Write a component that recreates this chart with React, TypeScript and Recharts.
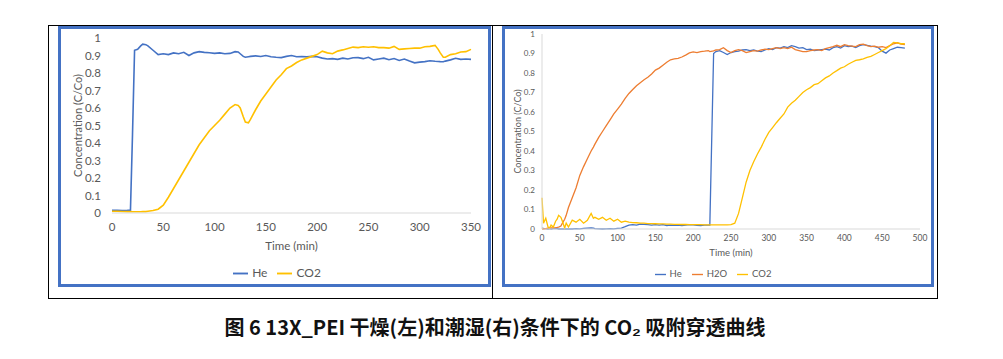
import { LineChart, Line, XAxis, YAxis, Legend } from "recharts";

const FONT = "Lato, 'Open Sans', sans-serif";
const TEXT_GREY = "#595959";
const AXIS_GREY = "#d9d9d9";
const HE_BLUE = "#4472c4";
const CO2_YELLOW = "#ffc000";
const H2O_ORANGE = "#ed7d31";

// dry run (left panel)
const dryTime = [
    0, 5, 10, 15, 18, 20, 22, 25, 28, 30,
    33, 35, 40, 45, 50, 55, 60, 65, 70, 75,
    80, 85, 90, 95, 100, 105, 110, 115, 120, 123,
    125, 128, 130, 133, 135, 140, 145, 150, 155, 160,
    165, 170, 175, 180, 185, 190, 195, 200, 205, 210,
    215, 220, 225, 230, 235, 240, 245, 250, 255, 260,
    265, 270, 275, 280, 285, 290, 295, 300, 305, 310,
    315, 318, 320, 323, 325, 330, 335, 340, 345, 350,
];
const dryHe = [
    0.015, 0.015, 0.014, 0.015, 0.016, 0.45, 0.93, 0.935, 0.955, 0.965,
    0.962, 0.955, 0.93, 0.905, 0.91, 0.905, 0.915, 0.91, 0.918, 0.9,
    0.915, 0.922, 0.918, 0.916, 0.912, 0.915, 0.91, 0.912, 0.922, 0.92,
    0.91, 0.895, 0.89, 0.893, 0.895, 0.898, 0.894, 0.9, 0.893, 0.89,
    0.888, 0.895, 0.9, 0.893, 0.894, 0.892, 0.895, 0.893, 0.885, 0.88,
    0.882, 0.878, 0.885, 0.88, 0.887, 0.888, 0.882, 0.89, 0.875, 0.88,
    0.885, 0.876, 0.883, 0.872, 0.88, 0.868, 0.858, 0.862, 0.865, 0.87,
    0.867, 0.866, 0.865, 0.864, 0.868, 0.875, 0.884, 0.878, 0.88, 0.878,
];
const dryCO2 = [
    0.01, 0.01, 0.009, 0.008, 0.008, 0.007, 0.007, 0.007, 0.007, 0.008,
    0.008, 0.01, 0.014, 0.022, 0.045, 0.09, 0.14, 0.19, 0.24, 0.29,
    0.34, 0.39, 0.43, 0.47, 0.5, 0.53, 0.565, 0.6, 0.62, 0.615,
    0.6, 0.55, 0.52, 0.515, 0.535, 0.59, 0.64, 0.68, 0.72, 0.76,
    0.79, 0.825, 0.84, 0.86, 0.875, 0.885, 0.895, 0.905, 0.925, 0.915,
    0.91, 0.925, 0.932, 0.94, 0.948, 0.945, 0.95, 0.947, 0.95, 0.945,
    0.945, 0.942, 0.952, 0.935, 0.938, 0.94, 0.942, 0.942, 0.95, 0.952,
    0.958, 0.935, 0.915, 0.89, 0.89, 0.905, 0.91, 0.92, 0.922, 0.935,
];

// humid run (right panel)
const wetTime = [
    0, 2, 5, 8, 10, 12, 15, 18, 20, 22,
    25, 27, 30, 32, 35, 40, 45, 50, 55, 60,
    65, 68, 70, 75, 80, 85, 90, 95, 100, 105,
    110, 115, 120, 125, 130, 135, 140, 145, 150, 155,
    160, 165, 170, 175, 180, 185, 190, 195, 200, 205,
    210, 215, 220, 222, 227, 230, 235, 240, 245, 250,
    255, 260, 265, 270, 275, 280, 285, 290, 295, 300,
    305, 310, 315, 320, 325, 330, 335, 340, 345, 350,
    355, 360, 365, 370, 375, 380, 385, 390, 395, 400,
    405, 410, 415, 420, 425, 430, 435, 440, 445, 450,
    455, 460, 465, 470, 475, 480,
];
const wetHe = [
    0.005, 0.003, 0.002, 0, 0.002, 0, 0.002, 0.003, 0.002, 0,
    0.001, 0, 0, 0.001, 0, 0, 0.002, 0.001, 0.003, 0.005,
    0.006, 0.004, 0.002, 0.001, 0, 0.001, 0.002, 0.001, 0.003, 0.005,
    0.012, 0.02, 0.022, 0.02, 0.025, 0.024, 0.022, 0.02, 0.022, 0.02,
    0.022, 0.018, 0.02, 0.019, 0.02, 0.018, 0.02, 0.022, 0.021, 0.019,
    0.018, 0.02, 0.02, 0.02, 0.9, 0.91, 0.915, 0.905, 0.895, 0.905,
    0.91, 0.912, 0.918, 0.92, 0.915, 0.918, 0.912, 0.91, 0.918, 0.925,
    0.92, 0.93, 0.928, 0.935, 0.93, 0.94, 0.935, 0.928, 0.93, 0.92,
    0.922, 0.915, 0.918, 0.92, 0.922, 0.918, 0.93, 0.935, 0.928, 0.94,
    0.935, 0.938, 0.93, 0.94, 0.945, 0.942, 0.938, 0.935, 0.93, 0.912,
    0.902, 0.918, 0.925, 0.932, 0.93, 0.928,
];
const wetH2O = [
    0, 0, 0.002, 0.004, 0.005, 0.006, 0.006, 0.007, 0.008, 0.01,
    0.015, 0.03, 0.05, 0.07, 0.11, 0.16, 0.21, 0.275, 0.32, 0.36,
    0.4, 0.42, 0.435, 0.47, 0.5, 0.53, 0.56, 0.59, 0.615, 0.64,
    0.67, 0.695, 0.715, 0.735, 0.75, 0.765, 0.778, 0.795, 0.815, 0.825,
    0.84, 0.855, 0.868, 0.872, 0.875, 0.882, 0.892, 0.903, 0.908, 0.905,
    0.91, 0.912, 0.915, 0.91, 0.914, 0.918, 0.92, 0.93, 0.915, 0.905,
    0.915, 0.92, 0.915, 0.905, 0.91, 0.915, 0.912, 0.918, 0.922, 0.92,
    0.925, 0.93, 0.925, 0.93, 0.925, 0.932, 0.92, 0.915, 0.91, 0.91,
    0.915, 0.918, 0.92, 0.915, 0.925, 0.93, 0.935, 0.942, 0.935, 0.945,
    0.94, 0.938, 0.935, 0.945, 0.948, 0.94, 0.935, 0.938, 0.932, 0.935,
    0.93, 0.94, 0.95, 0.955, 0.948, 0.945,
];
const wetCO2 = [
    0.16, 0.03, 0.055, 0.01, 0.005, 0.02, 0.01, 0.04, 0.05, 0.07,
    0.06, 0.04, 0.005, 0.03, 0.01, 0.045, 0.035, 0.05, 0.03, 0.045,
    0.08, 0.055, 0.06, 0.05, 0.06, 0.045, 0.055, 0.04, 0.05, 0.035,
    0.04, 0.035, 0.033, 0.032, 0.03, 0.03, 0.028, 0.028, 0.027, 0.026,
    0.026, 0.025, 0.025, 0.024, 0.024, 0.023, 0.023, 0.022, 0.022, 0.022,
    0.022, 0.021, 0.021, 0.021, 0.021, 0.021, 0.021, 0.021, 0.021, 0.022,
    0.03, 0.08, 0.16, 0.24, 0.3, 0.345, 0.385, 0.42, 0.46, 0.495,
    0.52, 0.545, 0.568, 0.59, 0.625, 0.645, 0.66, 0.68, 0.7, 0.714,
    0.725, 0.74, 0.745, 0.76, 0.775, 0.785, 0.8, 0.812, 0.825, 0.832,
    0.845, 0.855, 0.865, 0.868, 0.872, 0.88, 0.885, 0.895, 0.905, 0.915,
    0.925, 0.94, 0.957, 0.955, 0.95, 0.95,
];

const dryTicks = [0, 50, 100, 150, 200, 250, 300, 350];
const wetTicks = [0, 50, 100, 150, 200, 250, 300, 350, 400, 450, 500];
const concTicks = [0, 0.1, 0.2, 0.3, 0.4, 0.5, 0.6, 0.7, 0.8, 0.9, 1];
const legendOrder = ["He", "H2O", "CO2"];

const dryData = dryTime.map((t, i) => ({ t, he: dryHe[i], co2: dryCO2[i] }));
const wetData = wetTime.map((t, i) => ({ t, he: wetHe[i], h2o: wetH2O[i], co2: wetCO2[i] }));

const legendText = (value: string) => <span style={{ color: TEXT_GREY }}>{value}</span>;
// keep legend in series order (Recharts sorts by name otherwise)
const byOrder = (item: any) => legendOrder.indexOf(item.value);

function DryChart() {
    return (
        <LineChart
            width={432}
            height={258}
            data={dryData}
            margin={{ top: 11, right: 19, left: 0, bottom: 0 }}
            style={{ fontFamily: FONT }}
        >
            <XAxis
                dataKey="t"
                type="number"
                domain={[0, 350]}
                ticks={dryTicks}
                height={72}
                stroke={AXIS_GREY}
                tickLine={false}
                tickSize={0}
                tickMargin={10}
                tick={{ fontSize: 11.5, fill: TEXT_GREY }}
                label={{ value: "Time (min)", position: "insideBottom", offset: 35, style: { fontSize: 11.5, fill: TEXT_GREY } }}
            />
            <YAxis
                type="number"
                domain={[0, 1]}
                ticks={concTicks}
                width={54}
                axisLine={false}
                tickLine={false}
                tickSize={0}
                tickMargin={11}
                tick={{ fontSize: 11.5, fill: TEXT_GREY }}
                label={{ value: "Concentration (C/Co)", angle: -90, position: "insideLeft", offset: 20, style: { textAnchor: "middle", fontSize: 11, fill: TEXT_GREY } }}
            />
            <Legend
                layout="horizontal"
                verticalAlign="middle"
                align="center"
                iconType="plainline"
                iconSize={15}
                itemSorter={byOrder}
                formatter={legendText}
                wrapperStyle={{ top: 238, left: 8, width: 432, fontSize: 12, fontFamily: FONT }}
            />
            <Line dataKey="he" name="He" stroke={HE_BLUE} strokeWidth={1.6} dot={false} type="linear" isAnimationActive={false} />
            <Line dataKey="co2" name="CO2" stroke={CO2_YELLOW} strokeWidth={1.6} dot={false} type="linear" isAnimationActive={false} />
        </LineChart>
    );
}

function WetChart() {
    return (
        <LineChart
            width={430}
            height={258}
            data={wetData}
            margin={{ top: 7, right: 13, left: 0, bottom: 0 }}
            style={{ fontFamily: FONT }}
        >
            <XAxis
                dataKey="t"
                type="number"
                domain={[0, 500]}
                ticks={wetTicks}
                height={56}
                stroke={AXIS_GREY}
                tickLine={false}
                tickSize={0}
                tickMargin={6}
                tick={{ fontSize: 8.5, fill: TEXT_GREY }}
                label={{ value: "Time (min)", position: "insideBottom", offset: 29, style: { fontSize: 9.5, fill: TEXT_GREY } }}
            />
            <YAxis
                type="number"
                domain={[0, 1]}
                ticks={concTicks}
                width={39}
                stroke={AXIS_GREY}
                tickLine={false}
                tickSize={0}
                tickMargin={7}
                tick={{ fontSize: 8, fill: TEXT_GREY }}
                label={{ value: "Concentration (C/Co)", angle: -90, position: "insideLeft", offset: 15, style: { textAnchor: "middle", fontSize: 9, fill: TEXT_GREY } }}
            />
            <Legend
                layout="horizontal"
                verticalAlign="middle"
                align="center"
                iconType="plainline"
                iconSize={11}
                itemSorter={byOrder}
                formatter={legendText}
                wrapperStyle={{ top: 241, left: 0, width: 430, fontSize: 9.5, fontFamily: FONT }}
            />
            <Line dataKey="he" name="He" stroke={HE_BLUE} strokeWidth={1.3} dot={false} type="linear" isAnimationActive={false} />
            <Line dataKey="h2o" name="H2O" stroke={H2O_ORANGE} strokeWidth={1.3} dot={false} type="linear" isAnimationActive={false} />
            <Line dataKey="co2" name="CO2" stroke={CO2_YELLOW} strokeWidth={1.3} dot={false} type="linear" isAnimationActive={false} />
        </LineChart>
    );
}

export default function App() {
    return (
        <div style={{ position: "absolute", left: 0, top: 0, width: 1003, height: 359, background: "#fff", fontFamily: FONT }}>
            {/* table cell borders */}
            <div style={{ position: "absolute", left: 48, top: 25, width: 888, height: 272, border: "1px solid #000" }} />
            <div style={{ position: "absolute", left: 492, top: 25, width: 1, height: 274, background: "#000" }} />

            <div style={{ position: "absolute", left: 58, top: 27 }}>
                <DryChart />
            </div>
            <div style={{ position: "absolute", left: 58, top: 26, width: 427, height: 255, border: "3px solid #4472c4" }} />

            <div style={{ position: "absolute", left: 503, top: 27 }}>
                <WetChart />
            </div>
            <div style={{ position: "absolute", left: 502, top: 26, width: 426, height: 255, border: "3px solid #4472c4" }} />

            <div
                style={{
                    position: "absolute",
                    left: 0,
                    top: 313,
                    width: 990,
                    textAlign: "center",
                    fontFamily: "'Noto Sans CJK SC', sans-serif",
                    fontWeight: 700,
                    fontSize: 20,
                    lineHeight: "28px",
                    color: "#111",
                }}
            >
                图 6 13X_PEI 干燥(左)和潮湿(右)条件下的 CO₂ 吸附穿透曲线
            </div>
        </div>
    );
}
